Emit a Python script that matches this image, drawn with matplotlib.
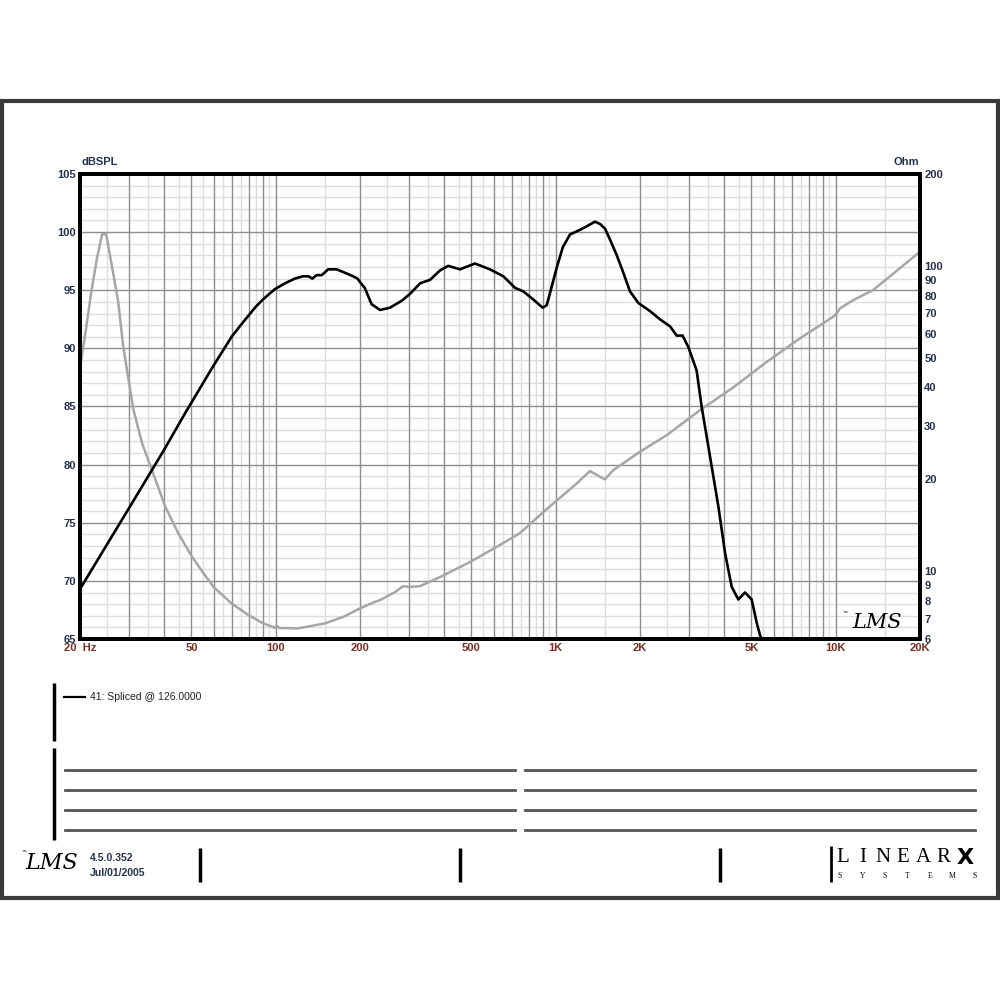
import matplotlib

matplotlib.use("Agg")
import matplotlib.pyplot as plt
from matplotlib.patches import Rectangle
from matplotlib.ticker import NullLocator

# --------------------------------------------------------------------------- #
# Theme
# --------------------------------------------------------------------------- #
NAVY = "#26304d"
RUST = "#7a2e22"
GRID_DARK = "#8e8e8e"
GRID_LIGHT = "#dedede"
IMP_GRAY = "#a6a6a6"
RULE = "#555555"

plt.rcParams.update({
    "font.family": ["Liberation Sans", "DejaVu Sans"],
    "figure.facecolor": "white",
})

# --------------------------------------------------------------------------- #
# Data
# --------------------------------------------------------------------------- #
spl_freq = [20, 30, 40, 47.4, 59.9, 69.6, 75, 79.8, 85, 90, 95, 99.4, 108, 117,
            125, 131, 135, 140, 146, 154, 165, 177, 189, 196, 200, 208, 220, 236,
            256, 282, 302, 328, 356, 386, 413, 455, 515, 582, 650, 716, 766, 832,
            898, 928, 960, 1007, 1060, 1125, 1222, 1291, 1381, 1440, 1500, 1560,
            1653, 1750, 1842, 1974, 2173, 2357, 2559, 2705, 2839, 2978, 3186, 3320,
            3557, 3810, 4025, 4250, 4488, 4742, 5010, 5222, 5370, 5600]
spl_db = [69.3, 76.3, 81.3, 84.4, 88.5, 91.0, 92.0, 92.8, 93.6, 94.2, 94.7, 95.1,
          95.6, 96.0, 96.2, 96.2, 96.0, 96.3, 96.3, 96.8, 96.8, 96.5, 96.2, 96.0,
          95.7, 95.2, 93.8, 93.3, 93.5, 94.1, 94.7, 95.6, 95.9, 96.7, 97.1, 96.8,
          97.3, 96.8, 96.2, 95.2, 94.9, 94.2, 93.5, 93.7, 95.0, 96.9, 98.7, 99.8,
          100.2, 100.5, 100.9, 100.7, 100.3, 99.4, 98.0, 96.4, 94.9, 93.9, 93.2,
          92.5, 91.9, 91.1, 91.1, 90.1, 88.1, 85.0, 80.7, 76.4, 72.4, 69.5, 68.4,
          69.0, 68.4, 66.4, 65.3, 64.0]

imp_freq = [20, 21, 22.0, 23, 24.0, 24.8, 26.0, 27.4, 28.5, 29.5, 31.0, 33.3, 36.1,
            40.3, 44.9, 50.1, 55, 59.9, 69.6, 79.8, 90.3, 99.4, 101, 103, 120, 150,
            175, 200, 226, 236, 267, 285, 302, 328, 386, 494, 632, 745, 879, 993,
            1172, 1325, 1438, 1500, 1606, 2000, 2491, 3276, 4309, 5670, 7450, 9805,
            10075, 10357, 11560, 13620, 20000]
imp_ohm = [46.3, 62, 83.4, 106, 127, 127, 100, 76, 55, 45, 34, 26.3, 21.5, 16.3,
           13.3, 11.2, 9.9, 8.9, 7.84, 7.19, 6.75, 6.53, 6.62, 6.52, 6.5, 6.75, 7.1,
           7.56, 7.94, 8.05, 8.55, 8.94, 8.88, 8.94, 9.57, 10.72, 12.19, 13.33,
           15.28, 16.85, 19.16, 21.29, 20.4, 20.0, 21.45, 24.63, 27.9, 33.7, 40.0,
           48.5, 57.9, 68.2, 70.0, 72.6, 77.3, 83.4, 111.3]

x_ticks = [20, 50, 100, 200, 500, 1000, 2000, 5000, 10000, 20000]
x_labels = ["20  Hz", "50", "100", "200", "500", "1K", "2K", "5K", "10K", "20K"]
db_ticks = [65, 70, 75, 80, 85, 90, 95, 100, 105]
ohm_ticks = [6, 7, 8, 9, 10, 20, 30, 40, 50, 60, 70, 80, 90, 100, 200]

legend_label = "41: Spliced @ 126.0000"
version = "4.5.0.352"
build_date = "Jul/01/2005"

# --------------------------------------------------------------------------- #
# Plot
# --------------------------------------------------------------------------- #
fig = plt.figure(figsize=(10, 10), dpi=100)

ax = fig.add_axes([0.08, 0.361, 0.84, 0.465])
ax.set_xscale("log")
ax.set_xlim(20, 20000)
ax.set_ylim(65, 105)

# log grid: dark at every integer multiple, light at the half steps
for dec in (10, 100, 1000, 10000):
    for k in range(1, 10):
        f = k * dec
        if 20 < f < 20000:
            ax.axvline(f, color=GRID_DARK, lw=1.0, zorder=1)
        fh = (k + 0.5) * dec
        if 20 < fh < 20000:
            ax.axvline(fh, color=GRID_LIGHT, lw=1.0, zorder=0.5)
for d in range(66, 105):
    if d % 5 == 0:
        ax.axhline(d, color=GRID_DARK, lw=1.0, zorder=1)
    else:
        ax.axhline(d, color=GRID_LIGHT, lw=1.0, zorder=0.5)

ax.xaxis.set_minor_locator(NullLocator())
ax.set_xticks(x_ticks)
ax.set_xticklabels(x_labels)
ax.set_yticks(db_ticks)
ax.set_yticklabels([str(v) for v in db_ticks])
ax.tick_params(length=0, pad=3)
for lab in ax.get_xticklabels():
    lab.set_color(RUST)
    lab.set_fontsize(8)
    lab.set_fontweight("bold")
for lab in ax.get_yticklabels():
    lab.set_color(NAVY)
    lab.set_fontsize(8)
    lab.set_fontweight("bold")

# impedance on the right, log ohms
ax2 = ax.twinx()
ax2.set_yscale("log")
ax2.set_ylim(6, 200)
ax2.yaxis.set_minor_locator(NullLocator())
ax2.set_yticks(ohm_ticks)
ax2.set_yticklabels([str(v) for v in ohm_ticks])
ax2.tick_params(length=0, pad=3, labelsize=8, labelcolor=NAVY)
for lab in ax2.get_yticklabels():
    lab.set_fontweight("bold")
ax2.plot(imp_freq, imp_ohm, color=IMP_GRAY, lw=1.8, solid_joinstyle="round")

# SPL on top
ax3 = ax.twinx()
ax3.set_ylim(65, 105)
ax3.set_yticks([])
ax3.tick_params(right=False, labelright=False)
ax3.plot(spl_freq, spl_db, color="black", lw=1.9, solid_joinstyle="round")

for a in (ax, ax2, ax3):
    for s in a.spines.values():
        s.set_color("black")
        s.set_linewidth(2.6)

# --------------------------------------------------------------------------- #
# Page furniture, drawn in pixel coords on a transparent overlay
# --------------------------------------------------------------------------- #
bg = fig.add_axes([0, 0, 1, 1], zorder=5)
bg.set_xlim(0, 1000)
bg.set_ylim(1000, 0)
bg.axis("off")

bg.add_patch(Rectangle((2, 101), 996, 797, fill=False, ec="#3a3a3a", lw=3))

bg.text(81, 167, "dBSPL", fontsize=8, fontweight="bold", color=NAVY, va="bottom")
bg.text(919, 167, "Ohm", fontsize=8, fontweight="bold", color=NAVY, ha="right", va="bottom")

# in-plot logo
bg.text(877, 623, "LMS", fontsize=15, style="italic", family="DejaVu Serif",
        color="black", ha="center", va="center")
bg.text(845, 612, "™", fontsize=3.5, color="black", ha="center", va="center")

# legend block
bg.plot([54, 54], [683, 741], color="black", lw=2.5, solid_capstyle="butt")
bg.plot([54, 54], [748, 840], color="black", lw=2.5, solid_capstyle="butt")
bg.plot([64, 85], [697, 697], color="black", lw=1.6)
bg.text(90, 697, legend_label, fontsize=7.5, color="#222222", va="center")

for y in (770, 790, 810, 830):
    bg.plot([65, 515], [y, y], color=RULE, lw=2)
    bg.plot([525, 975], [y, y], color=RULE, lw=2)

# footer
bg.text(52, 863, "LMS", fontsize=16, style="italic", family="DejaVu Serif",
        color="black", ha="center", va="center")
bg.text(24, 851, "™", fontsize=3.5, color="black", ha="center", va="center")
bg.text(90, 858, version, fontsize=7.5, fontweight="bold", color=NAVY, va="center")
bg.text(90, 873, build_date, fontsize=7.5, fontweight="bold", color=NAVY, va="center")
for x in (200, 460, 720):
    bg.plot([x, x], [848, 882], color="black", lw=2.5, solid_capstyle="butt")

bg.plot([831, 831], [846, 882], color="black", lw=2, solid_capstyle="butt")
for i, ch in enumerate("LINEAR"):
    bg.text(843 + i * 20, 858, ch, fontsize=15, family="Liberation Serif",
            color="black", ha="center", va="center")
bg.text(965, 858, "X", fontsize=16, fontweight="heavy", family="DejaVu Sans",
        color="black", ha="center", va="center")
for i, ch in enumerate("SYSTEMS"):
    bg.text(840 + i * 22.5, 876, ch, fontsize=5.5, family="Liberation Serif",
            color="black", ha="center", va="center")

fig.savefig("out.png", dpi=100, facecolor="white")
